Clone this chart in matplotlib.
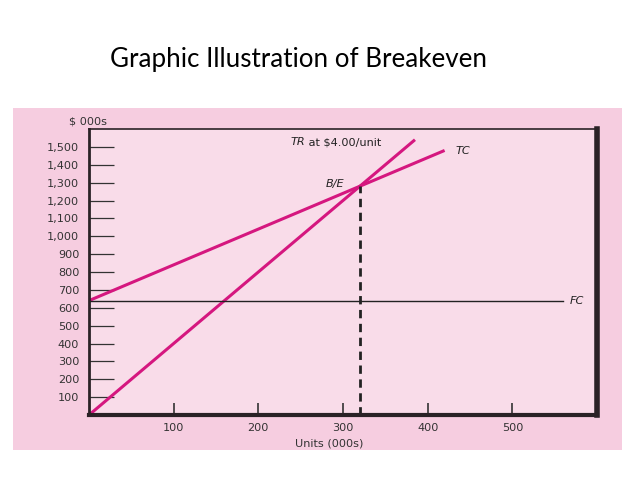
import matplotlib.pyplot as plt
from matplotlib.patches import Rectangle

# values (units and dollars in 000s)
tr_units = [0, 385]
tr_values = [0, 1540]
tc_units = [0, 420]
tc_values = [640, 1480]
fc_units = [0, 560]
fc_values = [640, 640]
be_units = 320
be_value = 1280
x_ticks = [100, 200, 300, 400, 500]
y_ticks = [100, 200, 300, 400, 500, 600, 700, 800, 900, 1000,
           1100, 1200, 1300, 1400, 1500]

W, H = 638, 479
line_color = '#d5177f'
outer_pink = '#f6cde0'
inner_pink = '#f9dce9'
label_font = 'DejaVu Sans'
fs = 8.1

fig = plt.figure(figsize=(W / 100, H / 100), dpi=100)
fig.patch.set_facecolor('white')

# outer pink panel, kept behind the axes
fig.patches.append(Rectangle((13 / W, 1 - 450 / H), (622 - 13) / W, (450 - 108) / H,
                             transform=fig.transFigure, facecolor=outer_pink,
                             edgecolor='none', zorder=-10))

fig.text(299 / W, 1 - 59 / H, 'Graphic Illustration of Breakeven', family='Lato',
         fontsize=18.7, ha='center', va='center', color='black')

ax = fig.add_axes([89 / W, 1 - 415 / H, (597 - 89) / W, (415 - 129) / H])
ax.set_facecolor(inner_pink)
ax.set_xlim(0, 600)
ax.set_ylim(0, 1600)

ax.plot(tr_units, tr_values, color=line_color, lw=2.2, solid_capstyle='butt')
ax.plot(tc_units, tc_values, color=line_color, lw=2.2, solid_capstyle='butt')
ax.plot(fc_units, fc_values, color='#222222', lw=1.0)
ax.plot([be_units, be_units], [0, be_value], color='#222222', lw=2, ls=(0, (3, 2)))

tr_txt = ax.text(238, 1525, 'TR', fontsize=fs, family=label_font, style='italic',
                 ha='left', va='center', color='#222222')
ax.annotate(' at \\$4.00/unit', xy=(1, 0), xycoords=tr_txt, fontsize=fs,
            family=label_font, ha='left', va='bottom', color='#222222')
ax.text(433, 1478, 'TC', fontsize=fs, family=label_font, style='italic', ha='left',
        va='center', color='#222222')
ax.text(302, 1290, 'B/E', fontsize=fs, family=label_font, style='italic', ha='right',
        va='center', color='#222222')
ax.text(568, 636, 'FC', fontsize=fs, family=label_font, style='italic', ha='left',
        va='center', color='#222222')

ax.set_xticks(x_ticks)
ax.set_xticklabels([str(v) for v in x_ticks], family=label_font, fontsize=fs, color='#333333')
ax.set_yticks(y_ticks)
ax.set_yticklabels([f'{v:,}' for v in y_ticks], family=label_font, fontsize=fs, color='#333333')
ax.tick_params(axis='y', direction='in', length=18, width=0.9, color='#333333', pad=7)
ax.tick_params(axis='x', direction='in', length=9, width=1.2, color='#333333', pad=6)

for side, lw in [('left', 2.0), ('bottom', 3.0), ('top', 1.2), ('right', 4.0)]:
    ax.spines[side].set_linewidth(lw)
    ax.spines[side].set_color('#2a2226')

fig.text(88 / W, 1 - 121 / H, '$ 000s', family=label_font, fontsize=fs,
         ha='center', va='center', color='#333333')
fig.text(329 / W, 1 - 443 / H, 'Units (000s)', family=label_font, fontsize=fs,
         ha='center', va='center', color='#333333')

fig.savefig('out.png', dpi=100)
